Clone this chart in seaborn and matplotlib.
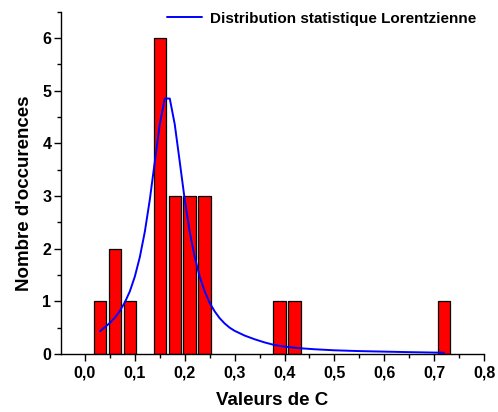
import matplotlib
matplotlib.use("Agg")
import matplotlib.pyplot as plt
import matplotlib.ticker as mticker
import seaborn as sns

# histogram of C values (bar centres and counts)
c_centres = [0.03, 0.06, 0.09, 0.15, 0.18, 0.21, 0.24, 0.39, 0.42, 0.72]
counts = [1, 2, 1, 6, 3, 3, 3, 1, 1, 1]

# Lorentzian fit
fit_x = [0.03, 0.04, 0.05, 0.06, 0.07, 0.08, 0.09, 0.10, 0.11, 0.12, 0.13,
         0.14, 0.15, 0.16, 0.17, 0.18, 0.19, 0.20, 0.21, 0.22, 0.23, 0.24,
         0.25, 0.26, 0.27, 0.28, 0.29, 0.30, 0.32, 0.34, 0.36, 0.38, 0.40,
         0.43, 0.46, 0.50, 0.55, 0.60, 0.65, 0.70, 0.72]
fit_y = [0.43, 0.51, 0.59, 0.69, 0.82, 0.98, 1.19, 1.47, 1.84, 2.32, 2.93,
         3.65, 4.36, 4.85, 4.85, 4.36, 3.65, 2.93, 2.32, 1.84, 1.47, 1.19,
         0.97, 0.81, 0.68, 0.58, 0.50, 0.44, 0.35, 0.28, 0.22, 0.17, 0.14,
         0.11, 0.09, 0.07, 0.055, 0.045, 0.035, 0.027, 0.025]

sns.set_style("ticks")
plt.rcParams['font.family'] = ['Liberation Sans', 'DejaVu Sans']
plt.rcParams['font.weight'] = 'bold'
plt.rcParams['text.color'] = 'black'
plt.rcParams['axes.labelcolor'] = 'black'
plt.rcParams['xtick.color'] = 'black'
plt.rcParams['ytick.color'] = 'black'
plt.rcParams['axes.edgecolor'] = 'black'

fig = plt.figure(figsize=(4.98, 4.12), dpi=100)
ax = fig.add_axes([0.1225, 0.1408, 0.8495, 0.831])

sns.barplot(x=c_centres, y=counts, native_scale=True, width=0.25 / 0.3,
            color='red', saturation=1, edgecolor='black', linewidth=0.9,
            ax=ax)
sns.lineplot(x=fit_x, y=fit_y, color='blue', linewidth=1.4,
             label='Distribution statistique Lorentzienne', ax=ax)

ax.set_xlim(-0.048, 0.8)
ax.set_ylim(0, 6.5)
ax.xaxis.set_major_locator(mticker.MultipleLocator(0.1))
ax.xaxis.set_minor_locator(mticker.MultipleLocator(0.05))
ax.yaxis.set_major_locator(mticker.MultipleLocator(1))
ax.yaxis.set_minor_locator(mticker.MultipleLocator(0.5))
ax.xaxis.set_major_formatter(mticker.FuncFormatter(lambda v, p: f"{v:.1f}".replace('.', ',')))
ax.yaxis.set_major_formatter(mticker.FuncFormatter(lambda v, p: f"{v:.0f}"))
ax.tick_params(which='major', direction='out', length=5, width=1, labelsize=11.5)
ax.tick_params(axis='x', which='major', pad=3.5)
ax.tick_params(axis='y', which='major', pad=2)
ax.tick_params(which='minor', direction='out', length=3, width=1)
for s in ['left', 'bottom']:
    ax.spines[s].set_linewidth(1)
sns.despine(ax=ax)

ax.set_xlabel('Valeurs de C', fontsize=13.5, fontweight='bold', labelpad=8)
ax.set_ylabel("Nombre d'occurences", fontsize=13.5, fontweight='bold')
ax.yaxis.set_label_coords(-0.066, 0.469)

leg = ax.legend(loc='upper right', bbox_to_anchor=(1.014, 1.04), frameon=False,
                handlelength=2.3, handletextpad=0.5,
                prop={'weight': 'bold', 'size': 11})

fig.savefig('out.png', dpi=100)
